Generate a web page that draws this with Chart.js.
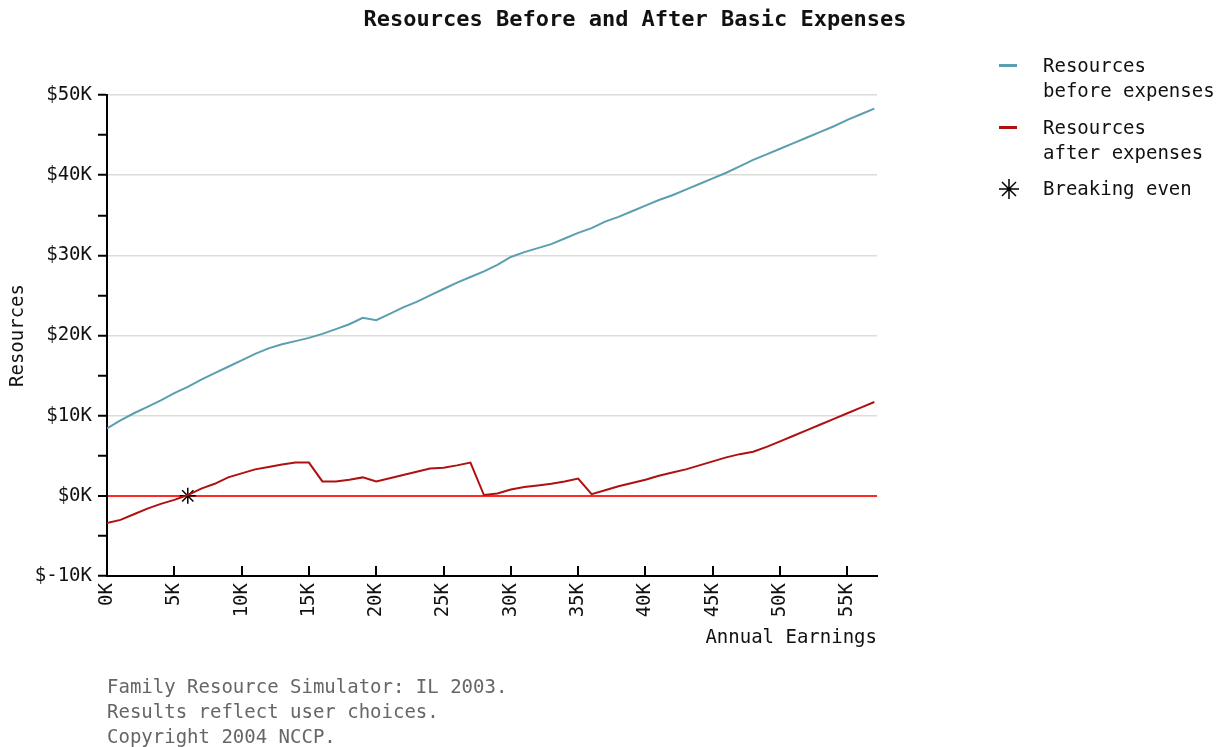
<!DOCTYPE html>
<html>
<head>
<meta charset="utf-8">
<script src="https://cdn.jsdelivr.net/npm/chart.js@4/dist/chart.umd.min.js"></script>
<style>
  body { margin: 0; background: #fff; font-family: "DejaVu Sans Mono", monospace; color: #111; }
  #wrap { position: relative; width: 1221px; height: 747px; overflow: hidden; }
  #chart { position: absolute; left: 0; top: 0; }
  #title { position: absolute; left: 0; top: 5px; width: 1270px; text-align: center;
           font-weight: bold; font-size: 22px; line-height: 28px; }
  .leg { position: absolute; left: 997px; font-size: 19px; line-height: 25px; }
  .leg .txt { position: absolute; left: 46px; white-space: nowrap; }
  .leg .mk { position: absolute; left: 2px; top: 11px; width: 18px; height: 3px; }
  #footer { position: absolute; left: 107px; top: 674px; font-size: 19px; line-height: 25px; color: #666; white-space: pre; }
</style>
</head>
<body>
<div id="wrap">
  <canvas id="chart" width="1221" height="747"></canvas>
  <div id="title">Resources Before and After Basic Expenses</div>
  <div class="leg" style="top:53px"><div class="mk" style="background:#5a9fb0"></div><div class="txt">Resources<br>before expenses</div></div>
  <div class="leg" style="top:115px"><div class="mk" style="background:#b01010"></div><div class="txt">Resources<br>after expenses</div></div>
  <div class="leg" style="top:176px">
    <svg style="position:absolute;left:1px;top:2px" width="22" height="22" viewBox="0 0 22 22">
      <g stroke="#000" stroke-width="1.5">
        <line x1="11" y1="1" x2="11" y2="21"/><line x1="1" y1="11" x2="21" y2="11"/>
        <line x1="4" y1="4" x2="18" y2="18"/><line x1="18" y1="4" x2="4" y2="18"/>
      </g>
      <circle cx="11" cy="11" r="2" fill="#000"/>
    </svg>
    <div class="txt">Breaking even</div>
  </div>
  <div id="footer">Family Resource Simulator: IL 2003.
Results reflect user choices.
Copyright 2004 NCCP.</div>
</div>
<script>
// Données (en milliers de dollars)
const earnings = [0, 1, 2, 3, 4, 5, 6, 7, 8, 9, 10, 11, 12, 13, 14, 15, 16, 17, 18, 19,
  20, 21, 22, 23, 24, 25, 26, 27, 28, 29, 30, 31, 32, 33, 34, 35, 36, 37, 38, 39,
  40, 41, 42, 43, 44, 45, 46, 47, 48, 49, 50, 51, 52, 53, 54, 55, 56, 57];
const beforeExpenses = [8.4, 9.4, 10.3, 11.1, 11.9, 12.8, 13.6, 14.5, 15.3, 16.1, 16.9, 17.7, 18.4, 18.9, 19.3, 19.7, 20.2, 20.8, 21.4, 22.2,
  21.9, 22.7, 23.5, 24.2, 25.0, 25.8, 26.6, 27.3, 28.0, 28.8, 29.8, 30.4, 30.9, 31.4, 32.1, 32.8, 33.4, 34.2, 34.8, 35.5,
  36.2, 36.9, 37.5, 38.2, 38.9, 39.6, 40.3, 41.1, 41.9, 42.6, 43.3, 44.0, 44.7, 45.4, 46.1, 46.9, 47.6, 48.3];
const afterExpenses = [-3.4, -3.0, -2.3, -1.6, -1.0, -0.5, 0.1, 0.9, 1.5, 2.3, 2.8, 3.3, 3.6, 3.9, 4.15, 4.15, 1.8, 1.8, 2.0, 2.3,
  1.8, 2.2, 2.6, 3.0, 3.4, 3.5, 3.8, 4.15, 0.1, 0.3, 0.8, 1.1, 1.3, 1.5, 1.8, 2.15, 0.2, 0.7, 1.2, 1.6,
  2.0, 2.5, 2.9, 3.3, 3.8, 4.3, 4.8, 5.2, 5.5, 6.1, 6.8, 7.5, 8.2, 8.9, 9.6, 10.3, 11.0, 11.7];
const breakEven = [{ x: 6, y: 0 }];

const monoFont = { family: '"DejaVu Sans Mono", monospace', size: 19 };

// Petites graduations de l'axe X vers l'intérieur
const innerTicks = {
    id: 'innerTicks',
    afterDraw(chart) {
        const xs = chart.scales.x;
        const ctx = chart.ctx;
        const bottom = chart.chartArea.bottom;
        ctx.save();
        ctx.strokeStyle = '#000';
        ctx.lineWidth = 2;
        xs.ticks.forEach(function (t) {
            const px = Math.round(xs.getPixelForValue(t.value));
            ctx.beginPath();
            ctx.moveTo(px, bottom);
            ctx.lineTo(px, bottom - 10);
            ctx.stroke();
        });
        ctx.restore();
    }
};

new Chart(document.getElementById('chart'), {
    type: 'line',
    data: {
        datasets: [{
            label: 'Resources before expenses',
            data: earnings.map((e, i) => ({ x: e, y: beforeExpenses[i] })),
            borderColor: '#5a9fb0',
            borderWidth: 2,
            pointRadius: 0,
            tension: 0
        }, {
            label: 'Resources after expenses',
            data: earnings.map((e, i) => ({ x: e, y: afterExpenses[i] })),
            borderColor: '#b01010',
            borderWidth: 2,
            pointRadius: 0,
            tension: 0
        }, {
            type: 'scatter',
            label: 'Breaking even',
            data: breakEven,
            pointStyle: 'star',
            pointRadius: 8,
            borderColor: '#000',
            backgroundColor: '#000',
            borderWidth: 1.5
        }]
    },
    options: {
        responsive: false,
        animation: false,
        layout: { padding: { top: 95, right: 344, bottom: 94, left: 0 } },
        plugins: { legend: { display: false }, tooltip: { enabled: false } },
        scales: {
            x: {
                type: 'linear',
                min: 0,
                max: 57.2,
                afterBuildTicks: s => { s.ticks = s.ticks.filter(t => t.value % 5 === 0); },
                afterFit: s => { s.height = 77; },
                border: { color: '#000', width: 2 },
                grid: { drawOnChartArea: false, drawTicks: false },
                ticks: {
                    stepSize: 5,
                    minRotation: 90,
                    maxRotation: 90,
                    padding: 7,
                    color: '#111',
                    font: monoFont,
                    callback: v => v + 'K'
                },
                title: {
                    display: true,
                    text: 'Annual Earnings',
                    align: 'end',
                    color: '#111',
                    font: monoFont
                }
            },
            y: {
                min: -10,
                max: 50,
                afterFit: s => { s.width = 107; },
                border: { color: '#000', width: 2 },
                grid: {
                    color: c => c.tick.value === 0 ? 'rgb(255,40,40)' : (c.tick.value % 10 === 0 ? '#dcdcdc' : 'rgba(0,0,0,0)'),
                    lineWidth: c => c.tick.value === 0 ? 2 : 1.5,
                    tickColor: '#000',
                    tickWidth: 2,
                    tickLength: 9
                },
                ticks: {
                    stepSize: 5,
                    padding: 6,
                    color: '#111',
                    font: monoFont,
                    callback: v => v % 10 === 0 ? '$' + v + 'K' : ''
                },
                title: {
                    display: true,
                    text: 'Resources',
                    color: '#111',
                    font: monoFont,
                    padding: { top: 7 }
                }
            }
        }
    },
    plugins: [innerTicks]
});
</script>
</body>
</html>
